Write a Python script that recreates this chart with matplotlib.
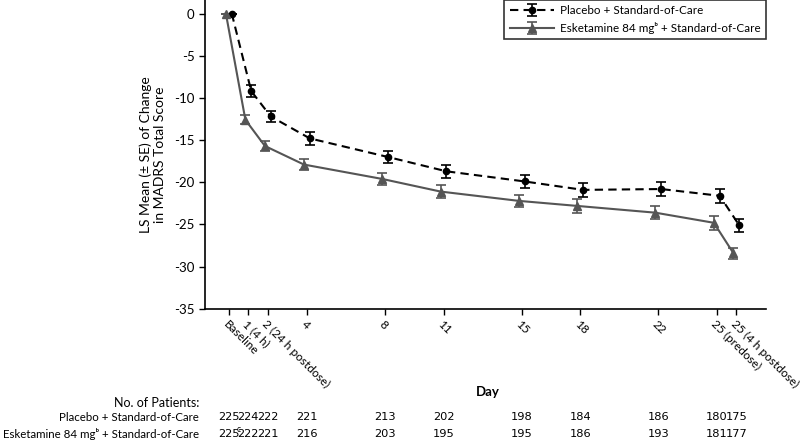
import numpy as np
import matplotlib.pyplot as plt

plt.rcParams['font.family'] = ['Lato', 'DejaVu Sans']
plt.rcParams['axes.unicode_minus'] = False

# positions of visits on the day axis (25 (4 h postdose) drawn one day after 25)
days = [0, 1, 2, 4, 8, 11, 15, 18, 22, 25, 26]
tick_labels = ['Baseline', '1 (4 h)', '2 (24 h postdose)', '4', '8', '11', '15',
               '18', '22', '25 (predose)', '25 (4 h postdose)']

placebo_mean = [0, -9.2, -12.2, -14.8, -17.0, -18.7, -19.9, -20.9, -20.8, -21.6, -25.1]
placebo_se = [0, 0.7, 0.7, 0.75, 0.75, 0.75, 0.75, 0.8, 0.8, 0.8, 0.75]
esk_mean = [0, -12.6, -15.7, -17.9, -19.6, -21.1, -22.2, -22.8, -23.6, -24.8, -28.4]
esk_se = [0, 0.55, 0.6, 0.7, 0.75, 0.75, 0.75, 0.8, 0.8, 0.85, 0.65]

n_placebo = ['225', '224', '222', '221', '213', '202', '198', '184', '186', '180', '175']
n_esk = ['225', '222', '221', '216', '203', '195', '195', '186', '193', '181', '177']

fig = plt.figure(figsize=(8, 4.4), dpi=100)
ax = fig.add_axes([0.256, 0.298, 0.701, 0.702])

d = np.array(days, dtype=float)
ax.errorbar(d + 0.15, placebo_mean, yerr=placebo_se, color='black', ls='--', lw=1.5,
            marker='o', ms=4.5, capsize=3.5, elinewidth=1.2, capthick=1.2,
            dashes=(4, 2.5), label='Placebo + Standard-of-Care', zorder=3)
ax.errorbar(d - 0.15, esk_mean, yerr=esk_se, color='#555555', ls='-', lw=1.5,
            marker='^', ms=5.5, capsize=3.5, elinewidth=1.2, capthick=1.2,
            label='Esketamine 84 mgᵇ + Standard-of-Care', zorder=3)

ax.set_xlim(-1.23, 27.5)
ax.set_ylim(-35, 1.6)
ax.set_yticks(range(-35, 1, 5))
ax.tick_params(axis='y', labelsize=9.5, length=4, width=1)
ax.set_xticks(days)
ax.set_xticklabels(tick_labels, rotation=-45, ha='left', va='top',
                   rotation_mode='anchor', fontsize=8.6)
ax.tick_params(axis='x', length=4, width=1, pad=3)
for s in ['top', 'right']:
    ax.spines[s].set_visible(False)
for s in ['left', 'bottom']:
    ax.spines[s].set_linewidth(1.2)

ax.set_ylabel('LS Mean (± SE) of Change\nin MADRS Total Score', fontsize=10, labelpad=6)

leg = ax.legend(loc='upper right', bbox_to_anchor=(1.0, 1.0), borderaxespad=0,
                fontsize=8.4, handlelength=3.8, frameon=True, fancybox=False,
                borderpad=0.45, labelspacing=0.5, handletextpad=0.5)
leg.get_frame().set_edgecolor('black')
leg.get_frame().set_linewidth(1.2)

fig.text(488 / 800, 1 - 392 / 440, 'Day', ha='center', va='center',
         fontsize=9.5, fontweight='bold')

# number of patients table
fig.text(199 / 800, 1 - 403 / 440, 'No. of Patients:', ha='right', va='center', fontsize=9)
fig.text(199 / 800, 1 - 417 / 440, 'Placebo + Standard-of-Care', ha='right',
         va='center', fontsize=8.3)
fig.text(199 / 800, 1 - 434 / 440, 'Esketamine 84 mgᵇ + Standard-of-Care',
         ha='right', va='center', fontsize=8.3)
y_row1 = 1 - 417 / 440
y_row2 = 1 - 434 / 440
narrow = ['Liberation Sans Narrow', 'DejaVu Sans']
for x, a, b in zip(days, n_placebo, n_esk):
    xf = fig.transFigure.inverted().transform(ax.transData.transform((x, 0)))[0]
    fig.text(xf, y_row1, a, ha='center', va='center', fontsize=8.2, family=narrow)
    fig.text(xf, y_row2, b, ha='center', va='center', fontsize=8.2, family=narrow)

# footnote marker on the first esketamine count
x0 = fig.transFigure.inverted().transform(ax.transData.transform((days[0], 0)))[0]
fig.text(x0 + 10 / 800, y_row2 + 5 / 440, 'c', ha='center', va='center',
         fontsize=5.5, family=narrow)

fig.savefig('out.png', dpi=100)
